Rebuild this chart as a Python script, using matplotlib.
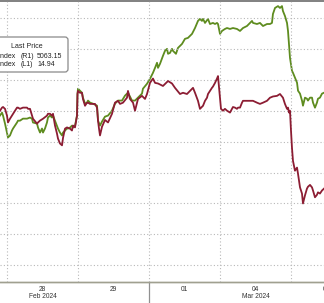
import numpy as np
import matplotlib
matplotlib.use("Agg")
import matplotlib.pyplot as plt
import matplotlib.patches as mpatches
from matplotlib.transforms import IdentityTransform

plt.rcParams['font.family'] = ['Liberation Sans', 'DejaVu Sans']

# time axis: trading days since the 28 Feb open (fraction of a session)
vix_t = [-0.099, -0.070, -0.056, -0.028, 0.0, 0.014, 0.042, 0.085, 0.113, 0.141, 0.155, 0.183, 0.225, 0.282,
         0.296, 0.324, 0.366, 0.423, 0.437, 0.465, 0.507, 0.563, 0.577, 0.606, 0.634, 0.648, 0.676, 0.704,
         0.718, 0.746, 0.775, 0.789, 0.817, 0.845, 0.887, 0.915, 0.930, 0.958, 0.986, 0.993, 1.0, 1.028,
         1.056, 1.070, 1.099, 1.127, 1.141, 1.169, 1.211, 1.239, 1.268, 1.282, 1.296, 1.310, 1.338, 1.380,
         1.423, 1.479, 1.521, 1.563, 1.592, 1.634, 1.690, 1.704, 1.732, 1.775, 1.803, 1.845, 1.901, 1.944,
         1.972, 2.014, 2.056, 2.085, 2.127, 2.197, 2.268, 2.324, 2.366, 2.437, 2.479, 2.535, 2.577, 2.620,
         2.648, 2.690, 2.718, 2.761, 2.789, 2.817, 2.831, 2.859, 2.887, 2.901, 2.930, 2.958, 2.972, 3.0,
         3.014, 3.042, 3.070, 3.099, 3.141, 3.169, 3.183, 3.211, 3.239, 3.254, 3.282, 3.310, 3.324, 3.380,
         3.423, 3.465, 3.521, 3.563, 3.606, 3.662, 3.704, 3.746, 3.803, 3.845, 3.887, 3.915, 3.944, 3.958,
         3.972, 3.986, 4.0, 4.014, 4.028, 4.056, 4.085, 4.099, 4.127, 4.155, 4.169, 4.197, 4.225, 4.239,
         4.268, 4.296, 4.310, 4.338, 4.366, 4.380, 4.408, 4.437, 4.465]
vix = [13.50, 13.45, 13.44, 13.47, 13.58, 13.69, 13.63, 13.55, 13.50, 13.45, 13.45, 13.47, 13.45, 13.45,
       13.47, 13.47, 13.63, 13.71, 13.69, 13.66, 13.63, 13.58, 13.55, 13.55, 13.58, 13.55, 13.74, 13.87,
       13.95, 14.03, 14.06, 13.94, 13.79, 13.77, 13.79, 13.82, 13.74, 13.77, 13.58, 13.23, 13.18, 13.21,
       13.21, 13.31, 13.42, 13.37, 13.37, 13.39, 13.39, 13.39, 13.45, 13.66, 13.79, 13.90, 13.76, 13.65,
       13.69, 13.55, 13.37, 13.34, 13.39, 13.37, 13.29, 13.18, 13.31, 13.37, 13.50, 13.31, 13.26, 13.31,
       13.23, 13.05, 12.98, 13.05, 13.06, 13.10, 13.02, 13.06, 13.13, 13.23, 13.21, 13.23, 13.18, 13.13,
       13.21, 13.34, 13.47, 13.42, 13.34, 13.29, 13.23, 13.18, 13.13, 13.11, 13.05, 12.98, 12.94, 13.29,
       13.47, 13.50, 13.47, 13.50, 13.53, 13.47, 13.44, 13.45, 13.47, 13.45, 13.45, 13.37, 13.34, 13.34,
       13.34, 13.34, 13.37, 13.39, 13.37, 13.34, 13.29, 13.27, 13.26, 13.23, 13.29, 13.39, 13.47, 13.45,
       13.53, 13.50, 13.82, 14.10, 14.31, 14.47, 14.42, 14.52, 14.74, 14.84, 15.00, 14.87, 14.76, 14.73,
       14.70, 14.74, 14.79, 14.90, 14.86, 14.82, 14.84, 14.79, 14.76]

spx_t = [-0.099, -0.070, -0.056, -0.028, 0.0, 0.014, 0.042, 0.070, 0.085, 0.113, 0.141, 0.155, 0.183, 0.225,
         0.282, 0.324, 0.352, 0.366, 0.423, 0.437, 0.465, 0.493, 0.507, 0.535, 0.563, 0.577, 0.606, 0.634,
         0.648, 0.676, 0.704, 0.718, 0.746, 0.775, 0.789, 0.817, 0.845, 0.859, 0.887, 0.915, 0.930, 0.958,
         0.986, 0.993, 1.0, 1.028, 1.056, 1.070, 1.099, 1.127, 1.141, 1.169, 1.211, 1.268, 1.282, 1.310,
         1.338, 1.380, 1.423, 1.479, 1.521, 1.563, 1.620, 1.662, 1.704, 1.761, 1.803, 1.845, 1.901, 1.915,
         1.972, 2.014, 2.056, 2.085, 2.113, 2.127, 2.155, 2.197, 2.225, 2.254, 2.268, 2.296, 2.324, 2.338,
         2.380, 2.408, 2.465, 2.507, 2.549, 2.606, 2.648, 2.690, 2.718, 2.746, 2.761, 2.789, 2.831, 2.859,
         2.901, 2.930, 2.958, 2.972, 3.0, 3.028, 3.070, 3.099, 3.141, 3.183, 3.239, 3.282, 3.324, 3.380,
         3.423, 3.451, 3.465, 3.521, 3.563, 3.606, 3.662, 3.704, 3.732, 3.746, 3.775, 3.817, 3.845, 3.873,
         3.887, 3.915, 3.944, 3.958, 3.972, 3.986, 4.014, 4.028, 4.056, 4.085, 4.099, 4.127, 4.155, 4.169,
         4.197, 4.225, 4.239, 4.268, 4.296, 4.310, 4.338, 4.366, 4.380, 4.408, 4.437, 4.465]
spx = [5076.8, 5078.7, 5076.8, 5071.6, 5065.8, 5062.6, 5063.9, 5067.1, 5068.4, 5070.3, 5072.3, 5073.5,
       5073.5, 5074.8, 5074.8, 5075.5, 5074.8, 5072.3, 5071.6, 5069.0, 5065.8, 5068.4, 5065.8, 5068.4,
       5072.3, 5075.5, 5076.8, 5075.5, 5076.8, 5073.5, 5070.3, 5068.4, 5065.8, 5063.9, 5065.8, 5067.1,
       5068.4, 5068.4, 5069.0, 5070.3, 5069.0, 5070.3, 5076.8, 5091.0, 5094.2, 5092.9, 5091.6, 5088.4,
       5084.5, 5085.2, 5086.5, 5085.2, 5084.5, 5083.2, 5073.5, 5070.3, 5072.9, 5076.1, 5076.8, 5080.0,
       5084.5, 5086.5, 5086.5, 5089.7, 5091.6, 5086.5, 5086.5, 5088.4, 5091.0, 5094.2, 5097.4, 5100.6,
       5104.5, 5107.7, 5111.0, 5107.7, 5110.3, 5115.5, 5118.7, 5120.0, 5116.8, 5117.4, 5120.0, 5118.7,
       5116.8, 5120.6, 5123.2, 5126.5, 5127.1, 5129.7, 5133.5, 5138.1, 5139.4, 5138.1, 5139.4, 5136.8,
       5139.4, 5136.1, 5136.8, 5136.1, 5136.8, 5136.1, 5129.7, 5131.6, 5132.9, 5133.5, 5132.9, 5133.5,
       5132.9, 5131.6, 5133.5, 5134.8, 5136.8, 5138.1, 5136.8, 5136.1, 5136.8, 5134.8, 5136.1, 5136.1,
       5136.8, 5142.6, 5146.5, 5147.7, 5146.5, 5147.7, 5144.5, 5141.3, 5136.8, 5131.6, 5123.2, 5114.2,
       5105.8, 5104.5, 5101.3, 5098.1, 5092.9, 5091.0, 5086.5, 5083.2, 5088.4, 5087.7, 5086.5, 5088.4,
       5088.4, 5085.2, 5081.9, 5085.2, 5087.7, 5088.4, 5091.0, 5091.6]

day_labels = ["28", "29", "01", "04", "05"]
month_labels = ["Feb 2024", "Mar 2024"]
month_days = [0, 3]
spx_last = 5063.15
vix_last = 14.94

red = "#8c1d33"
green = "#5e8c1f"
grid_c = "#b8b8b8"

fig = plt.figure(figsize=(3.24, 3.03), dpi=100)
ax = fig.add_axes([0, 21 / 303, 1, 281 / 303])
ax2 = ax.twinx()

ax2.plot(spx_t, spx, color=green, lw=1.3)
ax.plot(vix_t, vix, color=red, lw=1.3)
ax.set_zorder(ax2.get_zorder() + 1)
ax.patch.set_visible(False)

ax.set_xlim(-0.0986, 4.465)
ax.set_ylim(16.27, 11.726)          # VIX inverted, left axis
ax2.set_ylim(4969.0, 5151.0)        # SPX, right axis

ax.set_xticks(range(5))
ax.set_yticks(np.arange(12, 16.01, 0.5))
ax.grid(True, color=grid_c, lw=0.8, linestyle=(0, (1, 2)))
ax.tick_params(length=0, labelleft=False, labelbottom=False)
ax2.tick_params(length=0, labelright=False)
for a in (ax, ax2):
    a.spines['left'].set_visible(False)
    a.spines['right'].set_visible(False)
    a.spines['top'].set_color("#808080")
    a.spines['top'].set_linewidth(1.2)
    a.spines['bottom'].set_color("#a0a090")
    a.spines['bottom'].set_linewidth(1.0)

trans = ax.get_xaxis_transform()
for i, lab in enumerate(day_labels):
    ax.text(i + 0.5, -0.025, lab, transform=trans, ha='center', va='center',
            fontsize=4.8, color="#333333", clip_on=False)
for d, lab in zip(month_days, month_labels):
    ax.text(d + 0.5, -0.051, lab, transform=trans, ha='center', va='center',
            fontsize=4.8, color="#333333", clip_on=False)
ax.plot([2, 2], [0, -0.08], transform=trans, color="#909090", lw=0.9, clip_on=False)

# legend box (cut at the left edge)
box = mpatches.FancyBboxPatch((-10, 303 - 72), 78, 35, boxstyle="round,pad=0,rounding_size=3",
                              transform=IdentityTransform(), facecolor="white",
                              edgecolor="#8a8a8a", lw=0.9, zorder=10)
fig.patches.append(box)

def ft(x, y, s, ha='left'):
    fig.text(x / 324, 1 - y / 303, s, ha=ha, va='center', fontsize=5.0, color="#222222", zorder=11)

ft(11, 47, "Last Price")
ft(15, 57, "SPX Index", ha='right')
ft(21, 57, "(R1)")
ft(37, 57, f"{spx_last:.2f}")
ft(15, 65, "VIX Index", ha='right')
ft(21, 65, "(L1)")
ft(37, 65, f"{vix_last:.2f}")

fig.savefig("out.png", dpi=100)
